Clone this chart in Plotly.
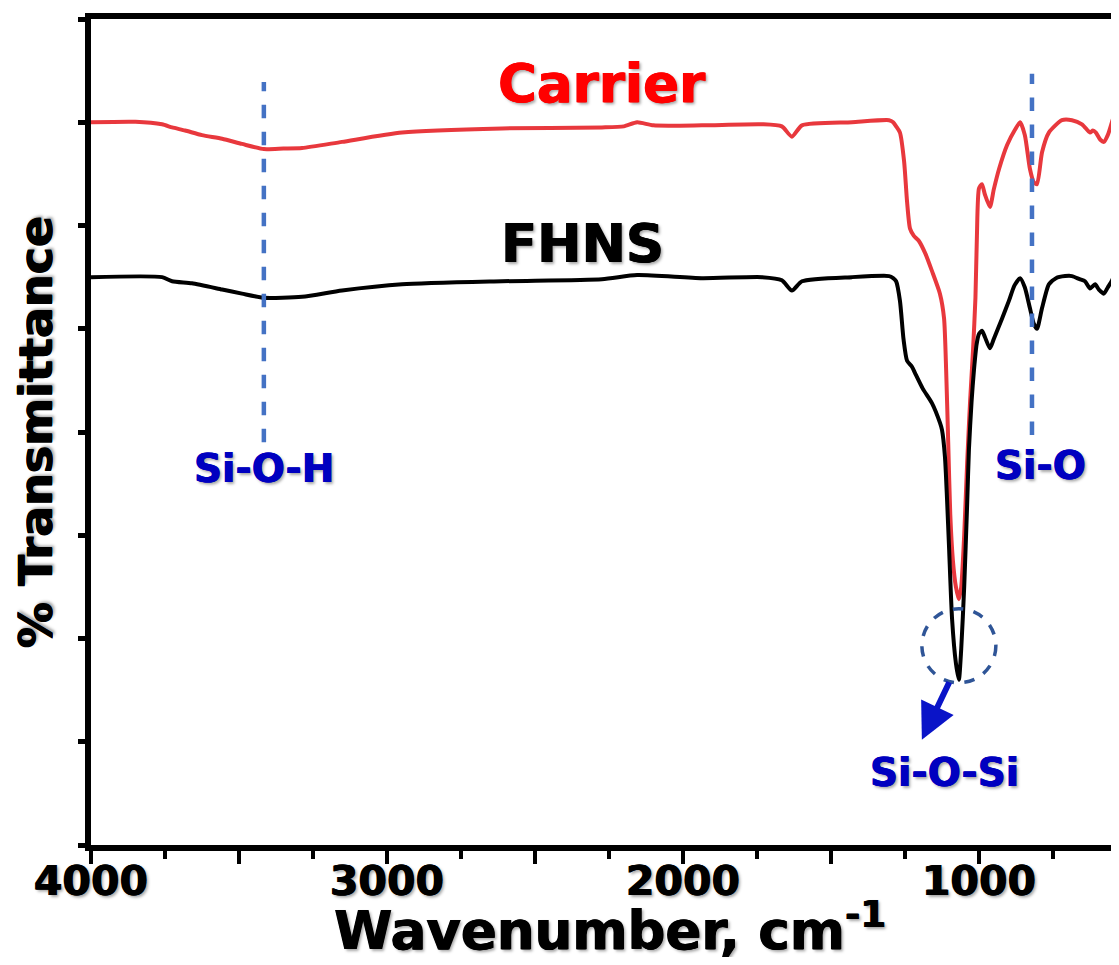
import plotly.graph_objects as go

# ---- data ----
carrier_wn = [4000, 3850, 3760, 3726, 3682, 3625, 3557, 3490, 3416, 3350, 3287, 3152, 2949, 2611, 2274,
              2200, 2155, 2100, 1936, 1733, 1666, 1632, 1598, 1429, 1304, 1290, 1280, 1267, 1253, 1243,
              1233, 1220, 1203, 1180, 1159, 1132, 1118, 1111, 1104, 1097, 1088, 1078, 1068, 1060, 1050,
              1040, 1030, 1020, 1012, 1007, 1000, 990, 980, 963, 950, 932, 905, 878, 861, 845, 828, 815,
              804, 787, 764, 720, 686, 652, 625, 615, 605, 590, 578, 565, 551, 540, 527]
carrier_t = [7.00, 7.005, 6.98, 6.95, 6.92, 6.875, 6.84, 6.79, 6.74, 6.745, 6.75, 6.81, 6.90, 6.94, 6.95,
             6.96, 7.00, 6.97, 6.97, 6.98, 6.96, 6.86, 6.97, 7.00, 7.02, 7.00, 6.96, 6.90, 6.62, 6.23,
             5.97, 5.90, 5.85, 5.72, 5.56, 5.34, 5.10, 4.60, 3.90, 3.20, 2.75, 2.50, 2.38, 2.50, 3.00,
             3.70, 4.30, 4.80, 5.30, 5.90, 6.36, 6.40, 6.30, 6.18, 6.35, 6.55, 6.78, 6.93, 7.00, 6.875, 6.55, 6.42,
             6.40, 6.71, 6.90, 7.02, 7.02, 6.98, 6.90, 6.92, 6.90, 6.83, 6.81, 6.875, 7.00, 7.10, 7.20]

fhns_wn = [4000, 3760, 3726, 3659, 3557, 3490, 3416, 3287, 3152, 2949, 2611, 2274, 2155, 1936, 1733,
           1666, 1632, 1598, 1429, 1304, 1290, 1280, 1267, 1255, 1243, 1226, 1216, 1190, 1159, 1132,
           1125, 1115, 1108, 1101, 1091, 1078, 1068, 1060, 1050, 1040, 1034, 1025, 1017, 1008, 1000,
           990, 980, 963, 950, 922, 899, 880, 861, 845, 828, 815, 804, 787, 764, 740, 709, 686, 660,
           642, 625, 608, 595, 578, 565, 550, 540, 527]
fhns_t = [5.50, 5.50, 5.46, 5.44, 5.38, 5.34, 5.30, 5.31, 5.37, 5.43, 5.46, 5.48, 5.52, 5.49, 5.50,
          5.47, 5.37, 5.46, 5.50, 5.51, 5.49, 5.46, 5.27, 4.90, 4.69, 4.63, 4.57, 4.42, 4.28, 4.09,
          4.02, 3.76, 3.35, 2.87, 2.19, 1.76, 1.60, 1.90, 2.50, 3.30, 3.83, 4.30, 4.60, 4.85, 4.95,
          4.98, 4.92, 4.81, 4.90, 5.10, 5.27, 5.42, 5.49, 5.40, 5.20, 5.05, 5.00, 5.20, 5.43, 5.49, 5.51, 5.51, 5.48,
          5.46, 5.39, 5.43, 5.38, 5.34, 5.40, 5.47, 5.55, 5.62]

x_tickvals = [4000, 3500, 3000, 2500, 2000, 1500, 1000]
x_ticktext = ["4000", " ", "3000", " ", "2000", " ", "1000"]
y_tickvals = [0, 1, 2, 3, 4, 5, 6, 7, 8]

x_title = "Wavenumber, cm<sup>-1</sup>"
y_title = "% Transmittance"

band_wn = {"Si-O-H": 3416, "Si-O": 821}
si_o_si_wn = 1068

FONT = "DejaVu Sans"
SH_BLACK = "0.6px 0 0 #000, -0.6px 0 0 #000, 2px 2px 3px rgba(0,0,0,0.35)"
SH_RED = "0.6px 0 0 #ff0000, -0.6px 0 0 #ff0000, 2px 2px 3px rgba(0,0,0,0.35)"
SH_BLUE = "0.5px 0 0 #0000c0, -0.5px 0 0 #0000c0, 2px 2px 3px rgba(0,0,0,0.35)"

fig = go.Figure()
fig.add_trace(go.Scatter(x=carrier_wn, y=carrier_t, mode="lines", name="Carrier",
                         line=dict(color="#e8383d", width=4, shape="spline", smoothing=0.6)))
fig.add_trace(go.Scatter(x=fhns_wn, y=fhns_t, mode="lines", name="FHNS",
                         line=dict(color="#000000", width=4, shape="spline", smoothing=0.6)))

# dashed band markers
fig.add_shape(type="line", x0=band_wn["Si-O-H"], x1=band_wn["Si-O-H"], y0=3.90, y1=7.39,
              line=dict(color="#4472c4", width=4.5, dash="dash"))
fig.add_shape(type="line", x0=band_wn["Si-O"], x1=band_wn["Si-O"], y0=3.97, y1=7.47,
              line=dict(color="#4472c4", width=4.5, dash="dash"))
# dashed circle around Si-O-Si minimum
fig.add_shape(type="circle", xref="x", yref="y", xsizemode="pixel", ysizemode="pixel",
              xanchor=si_o_si_wn, yanchor=1.93, x0=-37, x1=37, y0=-37, y1=37,
              line=dict(color="#2f5597", width=3.5, dash="dash"))

# arrow
fig.add_annotation(x=1193, y=1.02, ax=1098, ay=1.59, axref="x", ayref="y", xref="x", yref="y",
                   text="", showarrow=True, arrowhead=2, arrowsize=1.2, arrowwidth=6,
                   arrowcolor="#0a14c8")

def label(x, y, text, color, size, shadow):
    fig.add_annotation(x=x, y=y, xref="x", yref="y", text="<b>%s</b>" % text, showarrow=False,
                       font=dict(family=FONT, size=size, color=color, shadow=shadow))

label(2274, 7.38, "Carrier", "#ff0000", 53, SH_RED)
label(2338, 5.83, "FHNS", "#000000", 53, SH_BLACK)
label(3416, 3.65, "Si-O-H", "#0000c0", 39, SH_BLUE)
label(791, 3.68, "Si-O", "#0000c0", 39, SH_BLUE)
label(1118, 0.70, "Si-O-Si", "#0000c0", 39, SH_BLUE)

# x-axis title (placed as a paper annotation so it can sit low in the margin)
fig.add_annotation(x=0.505, y=-0.099, xref="paper", yref="paper", xanchor="center", yanchor="middle",
                   text="<b>%s</b>" % x_title, showarrow=False,
                   font=dict(family=FONT, size=53, color="black", shadow=SH_BLACK))

fig.update_layout(
    width=1111, height=949,
    margin=dict(l=83, r=0, t=11, b=112, autoexpand=False),
    paper_bgcolor="white", plot_bgcolor="white",
    showlegend=False,
    font=dict(family=FONT, color="black"),
)
fig.update_xaxes(
    range=[4000, 527], showgrid=False, zeroline=False, automargin=False,
    showline=True, linecolor="black", linewidth=6, mirror=True,
    ticks="outside", ticklen=13, tickwidth=4, tickcolor="black",
    tickmode="array", tickvals=x_tickvals, ticktext=x_ticktext,
    ticklabelstandoff=-18,
    tickfont=dict(family=FONT, size=41, color="black", weight="bold", shadow=SH_BLACK),
    minor=dict(dtick=250, ticks="outside", ticklen=8, tickwidth=4, tickcolor="black"),
)
fig.update_yaxes(
    range=[0, 8], showgrid=False, zeroline=False, automargin=False,
    showline=True, linecolor="black", linewidth=6, mirror=False,
    ticks="outside", ticklen=7, tickwidth=5, tickcolor="black",
    tickmode="array", tickvals=y_tickvals, showticklabels=False,
    title=dict(text="<b>%s</b>" % y_title, standoff=13,
               font=dict(family=FONT, size=46, color="black", shadow=SH_BLACK)),
)

fig.write_html("out.html")
